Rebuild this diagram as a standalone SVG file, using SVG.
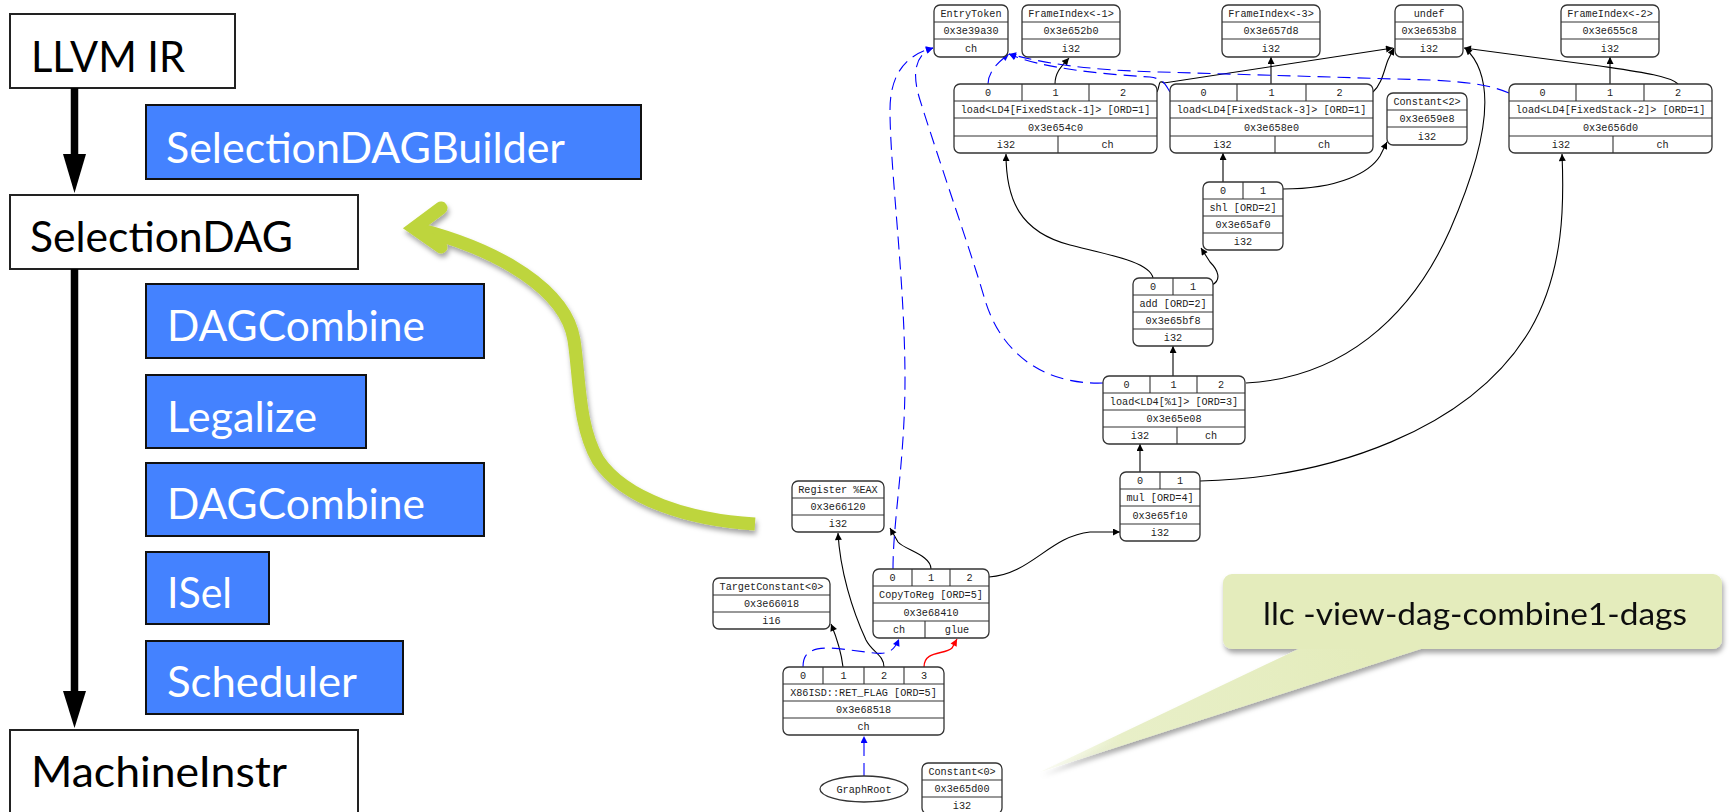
<svg xmlns="http://www.w3.org/2000/svg" width="1733" height="812" viewBox="0 0 1733 812">
  <defs>
    <style>
      .stage { fill: #ffffff; stroke: #222222; stroke-width: 2; }
      .pass { fill: #4482ff; stroke: #111111; stroke-width: 2; }
      .big { font-family: Lato, "Open Sans", sans-serif; font-size: 42px; fill: #000000; }
      .big.w { fill: #ffffff; }
      .nb { fill: #ffffff; stroke: #333333; stroke-width: 1.3; }
      .dv { fill: none; stroke: #333333; stroke-width: 1.1; }
      .t { font-family: "Liberation Mono", "DejaVu Sans Mono", monospace; font-size: 10.2px; fill: #222222; text-anchor: middle; }
      .e { fill: none; stroke: #000000; stroke-width: 1.1; }
      .ch { fill: none; stroke: #0000ff; stroke-width: 1.1; stroke-dasharray: 13 7; }
      .chs { fill: none; stroke: #0000ff; stroke-width: 1.1; }
      .gl { fill: none; stroke: #ff0000; stroke-width: 1.3; }
    </style>
    <marker id="ab" viewBox="0 0 10 10" refX="10" refY="5" markerWidth="8" markerHeight="7" markerUnits="userSpaceOnUse" orient="auto">
      <path d="M0,0L10,5L0,10z" fill="#000000"/>
    </marker>
    <marker id="abl" viewBox="0 0 10 10" refX="10" refY="5" markerWidth="8" markerHeight="7" markerUnits="userSpaceOnUse" orient="auto">
      <path d="M0,0L10,5L0,10z" fill="#0000ff"/>
    </marker>
    <marker id="ar" viewBox="0 0 10 10" refX="10" refY="5" markerWidth="8" markerHeight="7" markerUnits="userSpaceOnUse" orient="auto">
      <path d="M0,0L10,5L0,10z" fill="#ff0000"/>
    </marker>
    <filter id="shadow" x="-20%" y="-20%" width="140%" height="150%">
      <feDropShadow dx="1.5" dy="4" stdDeviation="2.5" flood-color="#000000" flood-opacity="0.35"/>
    </filter>
    <linearGradient id="tail" x1="1370" y1="649" x2="1040" y2="772" gradientUnits="userSpaceOnUse">
      <stop offset="0" stop-color="#e4ecbc"/>
      <stop offset="0.75" stop-color="#e8efc8"/>
      <stop offset="1" stop-color="#f2f6e0" stop-opacity="0.4"/>
    </linearGradient>
  </defs>

  <!-- pipeline stages -->
  <g id="stage-llvm-ir">
    <rect class="stage" x="10" y="14" width="225" height="74"/>
    <text class="big" x="31" y="72" textLength="154" lengthAdjust="spacingAndGlyphs">LLVM IR</text>
  </g>
  <g id="stage-selectiondag">
    <rect class="stage" x="10" y="195" width="348" height="74"/>
    <text class="big" x="30" y="252" textLength="263" lengthAdjust="spacingAndGlyphs">SelectionDAG</text>
  </g>
  <g id="stage-machineinstr">
    <rect class="stage" x="10" y="730" width="348" height="95"/>
    <text class="big" x="31" y="787" textLength="256" lengthAdjust="spacingAndGlyphs">MachineInstr</text>
  </g>

  <!-- passes -->
  <g id="pass-builder">
    <rect class="pass" x="146" y="105" width="495" height="74"/>
    <text class="big w" x="166" y="163" textLength="399" lengthAdjust="spacingAndGlyphs">SelectionDAGBuilder</text>
  </g>
  <g id="pass-combine1">
    <rect class="pass" x="146" y="284" width="338" height="74"/>
    <text class="big w" x="167" y="341" textLength="258" lengthAdjust="spacingAndGlyphs">DAGCombine</text>
  </g>
  <g id="pass-legalize">
    <rect class="pass" x="146" y="375" width="220" height="73"/>
    <text class="big w" x="167" y="432" textLength="150" lengthAdjust="spacingAndGlyphs">Legalize</text>
  </g>
  <g id="pass-combine2">
    <rect class="pass" x="146" y="463" width="338" height="73"/>
    <text class="big w" x="167" y="519" textLength="258" lengthAdjust="spacingAndGlyphs">DAGCombine</text>
  </g>
  <g id="pass-isel">
    <rect class="pass" x="146" y="552" width="123" height="72"/>
    <text class="big w" x="167" y="608" textLength="65" lengthAdjust="spacingAndGlyphs">ISel</text>
  </g>
  <g id="pass-scheduler">
    <rect class="pass" x="146" y="641" width="257" height="73"/>
    <text class="big w" x="167" y="697" textLength="190" lengthAdjust="spacingAndGlyphs">Scheduler</text>
  </g>

  <!-- pipeline flow arrows -->
  <g id="pipeline-arrows">
    <line x1="74.5" y1="88" x2="74.5" y2="158" stroke="#000000" stroke-width="7.5"/>
    <polygon points="63,154 86,154 74.5,193" fill="#000000"/>
    <line x1="74.5" y1="269" x2="74.5" y2="695" stroke="#000000" stroke-width="7.5"/>
    <polygon points="63,691 86,691 74.5,728" fill="#000000"/>
  </g>

  <!-- highlight arrow pointing back at the SelectionDAG stage -->
  <g id="highlight-arrow" filter="url(#shadow)" fill="none" stroke="#bed53e" stroke-width="13">
    <path d="M755,524 C690,520 625,500 598,460 C578,425 580,380 574,340 C566,290 500,250 418,229" stroke-linecap="butt"/>
    <polyline points="441,208 414,228 441,247" stroke-linejoin="miter" stroke-linecap="round"/>
  </g>

  <!-- command callout -->
  <g id="callout" filter="url(#shadow)">
    <polygon points="1307,645 1433,645 1040,772" fill="url(#tail)"/>
    <rect x="1223" y="574" width="499" height="75" rx="9" fill="#e4ecbc"/>
    <text x="1475" y="625" text-anchor="middle" font-family="Lato, 'Open Sans', sans-serif" font-size="31" fill="#111111" textLength="424" lengthAdjust="spacingAndGlyphs">llc -view-dag-combine1-dags</text>
  </g>

  <!-- DAG edges -->
  <g id="dag-edges">
    <!-- data edges -->
    <path class="e" d="M1055,84 C1055,72 1062,66 1069,58" marker-end="url(#ab)"/>
    <path class="e" d="M1157,92 C1160,86 1158,79 1164,83 L1393,48" marker-end="url(#ab)"/>
    <path class="e" d="M1271,84 L1271,57" marker-end="url(#ab)"/>
    <path class="e" d="M1373,92 C1382,84 1384,70 1388,60 L1394,48" marker-end="url(#ab)"/>
    <path class="e" d="M1610,84 L1610,57" marker-end="url(#ab)"/>
    <path class="e" d="M1678,84 C1670,76 1640,72 1600,66 L1464,48" marker-end="url(#ab)"/>
    <path class="e" d="M1246,383 C1340,378 1410,320 1450,230 C1485,150 1500,80 1465,48" marker-end="url(#ab)"/>
    <path class="e" d="M1223,182 L1223,153" marker-end="url(#ab)"/>
    <path class="e" d="M1283,189 C1340,189 1370,172 1380,156 L1387,142" marker-end="url(#ab)"/>
    <path class="e" d="M1153,278 C1150,262 1110,255 1070,245 C1020,232 1006,200 1006,154" marker-end="url(#ab)"/>
    <path class="e" d="M1212,285 C1222,280 1218,270 1210,262 L1201,248" marker-end="url(#ab)"/>
    <path class="e" d="M1173,376 L1173,346" marker-end="url(#ab)"/>
    <path class="e" d="M1140,472 L1140,444" marker-end="url(#ab)"/>
    <path class="e" d="M1200,481 C1330,478 1470,430 1530,330 C1565,270 1564,200 1562,154" marker-end="url(#ab)"/>
    <path class="e" d="M989,577 C1030,575 1050,536 1090,532 L1120,532" marker-end="url(#ab)"/>
    <path class="e" d="M931,569 C931,555 905,550 898,542 L890,528" marker-end="url(#ab)"/>
    <path class="e" d="M843,667 C841,650 836,636 831,624" marker-end="url(#ab)"/>
    <path class="e" d="M884,667 C884,655 872,652 866,640 C852,610 840,570 838,533" marker-end="url(#ab)"/>
    <!-- glue edge -->
    <path class="gl" d="M924,667 C924,650 945,655 952,648 L957,639" marker-end="url(#ar)"/>
    <!-- chain edges -->
    <path class="ch" d="M1103,383 C1040,385 1000,350 985,300 C972,255 942,170 920,100 C912,75 914,55 933,48" marker-end="url(#abl)"/>
    <path class="ch" d="M893,569 C893,520 905,460 905,380 C905,280 890,170 890,110 C890,75 905,55 933,48" marker-end="url(#abl)"/>
    <path class="ch" d="M988,84 C988,72 998,62 1009,54" marker-end="url(#abl)"/>
    <path class="ch" d="M1170,92 C1165,84 1164,79 1150,77 C1100,74 1040,68 1009,54" marker-end="url(#abl)"/>
    <path class="ch" d="M1509,93 C1490,85 1470,82 1430,80 L1160,72 C1080,70 1040,62 1009,54" marker-end="url(#abl)"/>
    <path class="ch" d="M803,667 C803,652 812,648 830,648 C860,650 880,656 888,652 C893,650 896,646 899,639" marker-end="url(#abl)"/>
    <path class="ch" d="M864,776 L864,736" marker-end="url(#abl)"/>
  </g>

  <!-- DAG nodes -->
  <g id="n-entrytoken">
    <rect class="nb" x="934" y="5" width="74" height="52" rx="6"/>
    <path class="dv" d="M934,22H1008M934,39H1008"/>
    <text class="t" x="971" y="17">EntryToken</text>
    <text class="t" x="971" y="34">0x3e39a30</text>
    <text class="t" x="971" y="51.5">ch</text>
  </g>
  <g id="n-frameindex-m1">
    <rect class="nb" x="1022" y="5" width="98" height="52" rx="6"/>
    <path class="dv" d="M1022,22H1120M1022,39H1120"/>
    <text class="t" x="1071" y="17">FrameIndex&lt;-1&gt;</text>
    <text class="t" x="1071" y="34">0x3e652b0</text>
    <text class="t" x="1071" y="51.5">i32</text>
  </g>
  <g id="n-frameindex-m3">
    <rect class="nb" x="1222" y="5" width="98" height="52" rx="6"/>
    <path class="dv" d="M1222,22H1320M1222,39H1320"/>
    <text class="t" x="1271" y="17">FrameIndex&lt;-3&gt;</text>
    <text class="t" x="1271" y="34">0x3e657d8</text>
    <text class="t" x="1271" y="51.5">i32</text>
  </g>
  <g id="n-undef">
    <rect class="nb" x="1395" y="5" width="68" height="52" rx="6"/>
    <path class="dv" d="M1395,22H1463M1395,39H1463"/>
    <text class="t" x="1429" y="17">undef</text>
    <text class="t" x="1429" y="34">0x3e653b8</text>
    <text class="t" x="1429" y="51.5">i32</text>
  </g>
  <g id="n-frameindex-m2">
    <rect class="nb" x="1561" y="5" width="98" height="52" rx="6"/>
    <path class="dv" d="M1561,22H1659M1561,39H1659"/>
    <text class="t" x="1610" y="17">FrameIndex&lt;-2&gt;</text>
    <text class="t" x="1610" y="34">0x3e655c8</text>
    <text class="t" x="1610" y="51.5">i32</text>
  </g>
  <g id="n-load-fs1">
    <rect class="nb" x="954" y="84" width="203" height="69" rx="6"/>
    <path class="dv" d="M954,101H1157M954,118H1157M954,136H1157M1022,84V101M1089,84V101M1058,136V153"/>
    <text class="t" x="988" y="96">0</text>
    <text class="t" x="1055.5" y="96">1</text>
    <text class="t" x="1123" y="96">2</text>
    <text class="t" x="1055.5" y="113">load&lt;LD4[FixedStack-1]&gt; [ORD=1]</text>
    <text class="t" x="1055.5" y="130.5">0x3e654c0</text>
    <text class="t" x="1006" y="148">i32</text>
    <text class="t" x="1107.5" y="148">ch</text>
  </g>
  <g id="n-load-fs3">
    <rect class="nb" x="1170" y="84" width="203" height="69" rx="6"/>
    <path class="dv" d="M1170,101H1373M1170,118H1373M1170,136H1373M1237,84V101M1306,84V101M1275,136V153"/>
    <text class="t" x="1203.5" y="96">0</text>
    <text class="t" x="1271.5" y="96">1</text>
    <text class="t" x="1339.5" y="96">2</text>
    <text class="t" x="1271.5" y="113">load&lt;LD4[FixedStack-3]&gt; [ORD=1]</text>
    <text class="t" x="1271.5" y="130.5">0x3e658e0</text>
    <text class="t" x="1222.5" y="148">i32</text>
    <text class="t" x="1324" y="148">ch</text>
  </g>
  <g id="n-constant-2">
    <rect class="nb" x="1387" y="93" width="80" height="52" rx="6"/>
    <path class="dv" d="M1387,110H1467M1387,127H1467"/>
    <text class="t" x="1427" y="105">Constant&lt;2&gt;</text>
    <text class="t" x="1427" y="122">0x3e659e8</text>
    <text class="t" x="1427" y="139.5">i32</text>
  </g>
  <g id="n-load-fs2">
    <rect class="nb" x="1509" y="84" width="203" height="69" rx="6"/>
    <path class="dv" d="M1509,101H1712M1509,118H1712M1509,136H1712M1576,84V101M1644,84V101M1613,136V153"/>
    <text class="t" x="1542.5" y="96">0</text>
    <text class="t" x="1610" y="96">1</text>
    <text class="t" x="1678" y="96">2</text>
    <text class="t" x="1610.5" y="113">load&lt;LD4[FixedStack-2]&gt; [ORD=1]</text>
    <text class="t" x="1610.5" y="130.5">0x3e656d0</text>
    <text class="t" x="1561" y="148">i32</text>
    <text class="t" x="1662.5" y="148">ch</text>
  </g>
  <g id="n-shl">
    <rect class="nb" x="1203" y="182" width="80" height="68" rx="6"/>
    <path class="dv" d="M1203,199H1283M1203,216H1283M1203,233H1283M1243,182V199"/>
    <text class="t" x="1223" y="194">0</text>
    <text class="t" x="1263" y="194">1</text>
    <text class="t" x="1243" y="211">shl [ORD=2]</text>
    <text class="t" x="1243" y="228">0x3e65af0</text>
    <text class="t" x="1243" y="245">i32</text>
  </g>
  <g id="n-add">
    <rect class="nb" x="1133" y="278" width="80" height="68" rx="6"/>
    <path class="dv" d="M1133,295H1213M1133,312H1213M1133,329H1213M1173,278V295"/>
    <text class="t" x="1153" y="290">0</text>
    <text class="t" x="1193" y="290">1</text>
    <text class="t" x="1173" y="307">add [ORD=2]</text>
    <text class="t" x="1173" y="324">0x3e65bf8</text>
    <text class="t" x="1173" y="341">i32</text>
  </g>
  <g id="n-load-1">
    <rect class="nb" x="1103" y="376" width="142" height="68" rx="6"/>
    <path class="dv" d="M1103,393H1245M1103,410H1245M1103,427H1245M1150,376V393M1197,376V393M1177,427V444"/>
    <text class="t" x="1126.5" y="388">0</text>
    <text class="t" x="1173.5" y="388">1</text>
    <text class="t" x="1221" y="388">2</text>
    <text class="t" x="1174" y="405">load&lt;LD4[%1]&gt; [ORD=3]</text>
    <text class="t" x="1174" y="422">0x3e65e08</text>
    <text class="t" x="1140" y="439">i32</text>
    <text class="t" x="1211" y="439">ch</text>
  </g>
  <g id="n-mul">
    <rect class="nb" x="1120" y="472" width="80" height="69" rx="6"/>
    <path class="dv" d="M1120,489H1200M1120,506H1200M1120,524H1200M1160,472V489"/>
    <text class="t" x="1140" y="484">0</text>
    <text class="t" x="1180" y="484">1</text>
    <text class="t" x="1160" y="501">mul [ORD=4]</text>
    <text class="t" x="1160" y="518.5">0x3e65f10</text>
    <text class="t" x="1160" y="536">i32</text>
  </g>
  <g id="n-register-eax">
    <rect class="nb" x="792" y="481" width="92" height="51" rx="6"/>
    <path class="dv" d="M792,498H884M792,515H884"/>
    <text class="t" x="838" y="493">Register %EAX</text>
    <text class="t" x="838" y="510">0x3e66120</text>
    <text class="t" x="838" y="527">i32</text>
  </g>
  <g id="n-targetconstant-0">
    <rect class="nb" x="713" y="578" width="117" height="51" rx="6"/>
    <path class="dv" d="M713,595H830M713,612H830"/>
    <text class="t" x="771.5" y="590">TargetConstant&lt;0&gt;</text>
    <text class="t" x="771.5" y="607">0x3e66018</text>
    <text class="t" x="771.5" y="624">i16</text>
  </g>
  <g id="n-copytoreg">
    <rect class="nb" x="873" y="569" width="116" height="69" rx="6"/>
    <path class="dv" d="M873,586H989M873,603H989M873,621H989M912,569V586M950,569V586M925,621V638"/>
    <text class="t" x="892.5" y="581">0</text>
    <text class="t" x="931" y="581">1</text>
    <text class="t" x="969.5" y="581">2</text>
    <text class="t" x="931" y="598">CopyToReg [ORD=5]</text>
    <text class="t" x="931" y="615.5">0x3e68410</text>
    <text class="t" x="899" y="633">ch</text>
    <text class="t" x="957" y="633">glue</text>
  </g>
  <g id="n-ret-flag">
    <rect class="nb" x="783" y="667" width="161" height="68" rx="6"/>
    <path class="dv" d="M783,684H944M783,701H944M783,718H944M823,667V684M864,667V684M904,667V684"/>
    <text class="t" x="803" y="679">0</text>
    <text class="t" x="843.5" y="679">1</text>
    <text class="t" x="884" y="679">2</text>
    <text class="t" x="924" y="679">3</text>
    <text class="t" x="863.5" y="696">X86ISD::RET_FLAG [ORD=5]</text>
    <text class="t" x="863.5" y="713">0x3e68518</text>
    <text class="t" x="863.5" y="730">ch</text>
  </g>
  <g id="n-graphroot">
    <ellipse class="nb" cx="864" cy="789" rx="44" ry="13"/>
    <text class="t" x="864" y="793">GraphRoot</text>
  </g>
  <g id="n-constant-0">
    <rect class="nb" x="922" y="763" width="80" height="51" rx="6"/>
    <path class="dv" d="M922,780H1002M922,797H1002"/>
    <text class="t" x="962" y="775">Constant&lt;0&gt;</text>
    <text class="t" x="962" y="792">0x3e65d00</text>
    <text class="t" x="962" y="809">i32</text>
  </g>
</svg>
